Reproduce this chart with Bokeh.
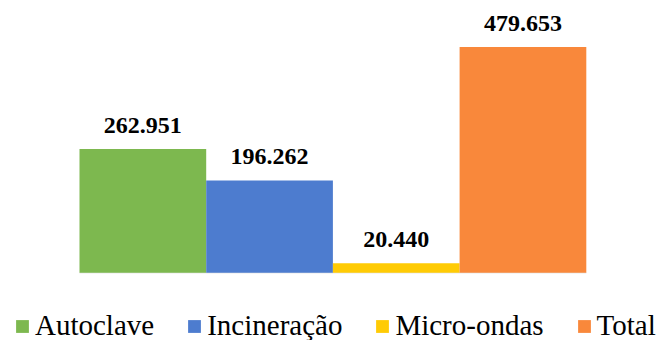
from bokeh.plotting import figure
from bokeh.models import Range1d, Legend, LegendItem
from bokeh.core.properties import value
from bokeh.embed import file_html
from bokeh.resources import INLINE
import numpy as np

categories = ["Autoclave", "Incineração", "Micro-ondas", "Total"]
values = [262.951, 196.262, 20.440, 479.653]
labels = ["262.951", "196.262", "20.440", "479.653"]
colors = ["#7DB84F", "#4D7CCF", "#FFCB05", "#F9883B"]

W, H = 665, 340
px_per_unit = 0.4705
bottom_px = 67.7
bar_px = 126.7
left_px = 79.0
FONT = "Times New Roman"

x0 = -0.5 - left_px / bar_px
y0 = -bottom_px / px_per_unit

p = figure(width=W, height=H, output_backend="svg", toolbar_location=None,
           x_range=Range1d(x0, x0 + W / bar_px), y_range=Range1d(y0, y0 + H / px_per_unit),
           min_border=0)
p.axis.visible = False
p.grid.visible = False
p.outline_line_color = None

xs = np.arange(len(categories))

p.segment(x0=[xs[0] - 0.5], x1=[xs[-1] + 0.5], y0=[0], y1=[0], line_color="#D9D9D9", line_width=1)

renderers = []
for i, c in enumerate(categories):
    r = p.vbar(x=[xs[i]], top=[values[i]], bottom=0, width=1.0, fill_color=colors[i], line_color=None)
    renderers.append(r)

p.text(x=list(xs), y=values, text=labels, text_font=value(FONT),
       text_font_style="bold", text_font_size="24px", text_align="center",
       text_baseline="middle", y_offset=-24, text_color="black")

legend = Legend(items=[LegendItem(label=value(categories[i]), renderers=[renderers[i]]) for i in range(len(categories))],
                orientation="horizontal", location=(14, -2),
                label_text_font=FONT, label_text_font_size="29px", label_text_color="black",
                glyph_width=16, glyph_height=16, label_standoff=5, spacing=32,
                padding=0, margin=0, border_line_color=None, background_fill_alpha=0)
p.add_layout(legend, "center")

open("out.html", "w", encoding="utf-8").write(file_html(p, INLINE))
